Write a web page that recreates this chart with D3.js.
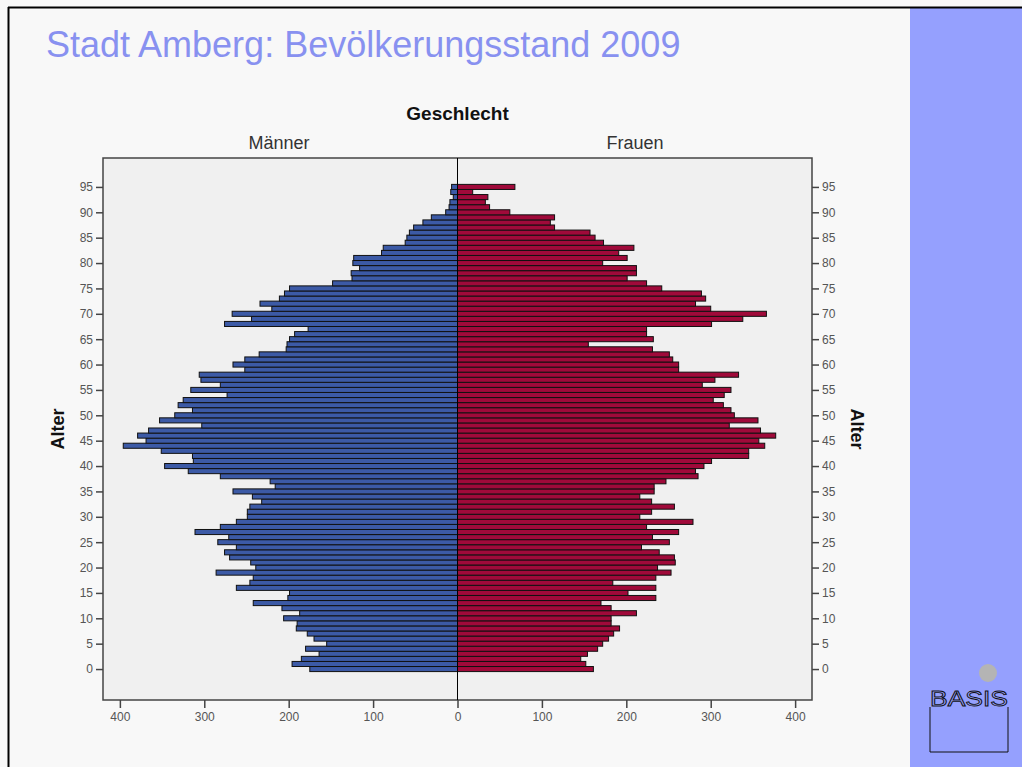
<!DOCTYPE html>
<html>
<head>
<meta charset="utf-8">
<script src="https://cdn.jsdelivr.net/npm/d3@7"></script>
<style>
  body { margin: 0; background: #f8f8f8; }
  svg { display: block; font-family: "Liberation Sans", Arial, sans-serif; }
</style>
</head>
<body>
<div class="chart"></div>
<script>
// ages 0..95 (95 = 95 und älter)
const ages = d3.range(0, 96);

// Männer, Alter 0..95
const maenner = [
  175, 196, 185, 164, 180, 155, 170, 178, 191, 190,
  206, 187, 208, 242, 201, 199, 262, 246, 242, 286,
  239, 245, 270, 276, 262, 284, 271, 311, 281, 262,
  249, 249, 246, 232, 243, 266, 216, 222, 281, 319,
  347, 313, 314, 351, 396, 369, 379, 366, 303, 353,
  335, 314, 331, 325, 273, 316, 281, 304, 306, 252,
  266, 252, 235, 203, 202, 199, 193, 177, 276, 244,
  267, 220, 234, 211, 205, 199, 148, 125, 126, 116,
  124, 123, 90, 88, 62, 60, 57, 52, 41, 31,
  14, 10, 9, 5, 8, 7
];

// Frauen, Alter 0..95
const frauen = [
  161, 152, 146, 154, 166, 172, 179, 185, 192, 182,
  182, 212, 182, 170, 235, 202, 235, 184, 235, 253,
  237, 258, 257, 239, 218, 251, 231, 262, 224, 279,
  216, 230, 257, 230, 216, 233, 233, 247, 285, 282,
  292, 301, 345, 345, 364, 357, 377, 359, 322, 356,
  328, 324, 315, 303, 316, 324, 290, 305, 333, 262,
  262, 255, 251, 231, 155, 232, 224, 224, 301, 338,
  366, 300, 282, 294, 289, 242, 224, 201, 212, 212,
  172, 201, 191, 209, 173, 163, 157, 115, 110, 115,
  62, 38, 33, 36, 18, 68
];

const xTicks = [-400, -300, -200, -100, 0, 100, 200, 300, 400];
const yTicks = d3.range(0, 100, 5);

const width = 1022, height = 767;

const svg = d3.select('.chart').append('svg')
  .attr('width', width)
  .attr('height', height);

// page background + frame
svg.append('rect').attr('x', 0).attr('y', 0).attr('width', width).attr('height', height).style('fill', '#f8f8f8');
svg.append('rect').attr('x', 910).attr('y', 8).attr('width', 112).attr('height', height - 8).style('fill', '#95a0fe');
svg.append('line').attr('x1', 8).attr('x2', width).attr('y1', 7.5).attr('y2', 7.5).style('stroke', '#000').style('stroke-width', 2);
svg.append('line').attr('x1', 8.5).attr('x2', 8.5).attr('y1', 7).attr('y2', height).style('stroke', '#000').style('stroke-width', 2);

// title
svg.append('text')
  .attr('x', 46).attr('y', 57)
  .style('font-size', '36px')
  .style('fill', '#8891f0')
  .text('Stadt Amberg: Bevölkerungsstand 2009');

// plot
const pLeft = 103, pRight = 812, pTop = 158, pBottom = 700;

const x = d3.scaleLinear().domain([-420, 420]).range([pLeft, pRight]);
const y = d3.scaleLinear().domain([-6.1, 100.7]).range([pBottom, pTop]);

svg.append('rect')
  .attr('x', pLeft).attr('y', pTop)
  .attr('width', pRight - pLeft).attr('height', pBottom - pTop)
  .style('fill', '#f0f0f0')
  .style('stroke', '#444')
  .style('stroke-width', 1.5);

const bh = y(0) - y(1);

svg.append('g').selectAll('rect')
  .data(ages)
  .join('rect')
  .attr('x', d => x(-maenner[d]))
  .attr('y', d => y(d + 0.5))
  .attr('width', d => x(0) - x(-maenner[d]))
  .attr('height', bh)
  .style('fill', '#3c5aa6')
  .style('stroke', '#111')
  .style('stroke-width', 1);

svg.append('g').selectAll('rect')
  .data(ages)
  .join('rect')
  .attr('x', x(0))
  .attr('y', d => y(d + 0.5))
  .attr('width', d => x(frauen[d]) - x(0))
  .attr('height', bh)
  .style('fill', '#a00a3a')
  .style('stroke', '#111')
  .style('stroke-width', 1);

// center line
svg.append('line')
  .attr('x1', x(0)).attr('x2', x(0))
  .attr('y1', pTop).attr('y2', pBottom)
  .style('stroke', '#000')
  .style('stroke-width', 1);

// axes
const axisLeft = d3.axisLeft(y).tickValues(yTicks).tickSize(7).tickPadding(3);
const axisRight = d3.axisRight(y).tickValues(yTicks).tickSize(7).tickPadding(3);
const axisBottom = d3.axisBottom(x).tickValues(xTicks).tickSize(8).tickPadding(4)
  .tickFormat(d => Math.abs(d));

function styleAxis(g) {
  g.select('.domain').remove();
  g.selectAll('line').style('stroke', '#444').style('stroke-width', 1.5);
  g.selectAll('text').style('font-size', '12px').style('fill', '#555')
    .style('font-family', '"Liberation Sans", Arial, sans-serif');
}

svg.append('g').attr('transform', `translate(${pLeft},0)`).call(axisLeft).call(styleAxis);
svg.append('g').attr('transform', `translate(${pRight},0)`).call(axisRight).call(styleAxis);
svg.append('g').attr('transform', `translate(0,${pBottom})`).call(axisBottom).call(styleAxis);

// labels
svg.append('text')
  .attr('x', x(0)).attr('y', 120)
  .attr('text-anchor', 'middle')
  .style('font-size', '19px').style('font-weight', 'bold').style('fill', '#111')
  .text('Geschlecht');

svg.append('text')
  .attr('x', 279).attr('y', 149)
  .attr('text-anchor', 'middle')
  .style('font-size', '18px').style('fill', '#333')
  .text('Männer');

svg.append('text')
  .attr('x', 635).attr('y', 149)
  .attr('text-anchor', 'middle')
  .style('font-size', '18px').style('fill', '#333')
  .text('Frauen');

svg.append('text')
  .attr('transform', `translate(64,${(pTop + pBottom) / 2}) rotate(-90)`)
  .attr('text-anchor', 'middle')
  .style('font-size', '18px').style('font-weight', 'bold').style('fill', '#111')
  .text('Alter');

svg.append('text')
  .attr('transform', `translate(851,${(pTop + pBottom) / 2}) rotate(90)`)
  .attr('text-anchor', 'middle')
  .style('font-size', '18px').style('font-weight', 'bold').style('fill', '#111')
  .text('Alter');

// BASIS logo
svg.append('circle').attr('cx', 988).attr('cy', 673).attr('r', 9).style('fill', '#b4b4b4');
svg.append('path')
  .attr('d', 'M930,707 L930,752 L1008,752 L1008,707')
  .style('fill', 'none').style('stroke', '#111').style('stroke-width', 1);
svg.append('text')
  .attr('x', 969).attr('y', 706)
  .attr('text-anchor', 'middle')
  .attr('textLength', 78)
  .attr('lengthAdjust', 'spacingAndGlyphs')
  .style('font-size', '22px')
  .style('fill', 'none').style('stroke', '#111').style('stroke-width', 0.9)
  .text('BASIS');
</script>
</body>
</html>
